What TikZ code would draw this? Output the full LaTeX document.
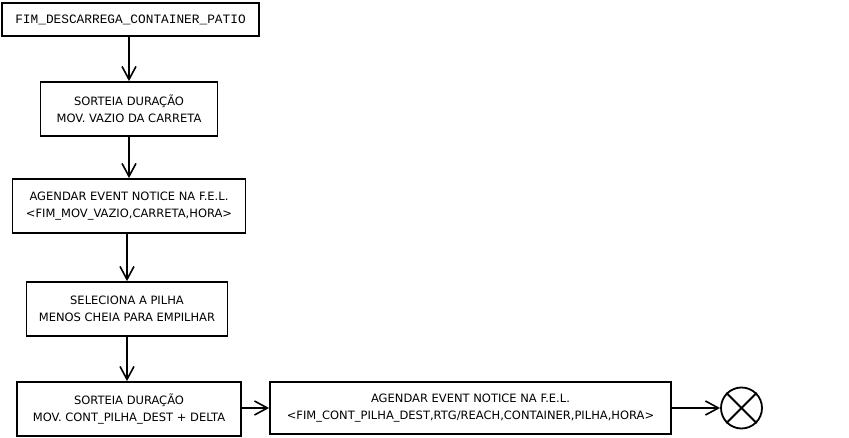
\documentclass[tikz,border=0pt]{standalone}
\usepackage{fontspec}
\setmainfont{DejaVu Sans}
\newfontfamily\monofont{Liberation Mono}
\usetikzlibrary{arrows.meta}
\usetikzlibrary{calc}
\usepackage{xcolor}

\tikzset{
  passo/.style={draw, line width=1.8pt, align=center, inner sep=0pt,
    font=\fontsize{11.5}{17}\selectfont},
  seta/.style={line width=1.8pt, -{Straight Barb[length=13pt,width=14pt,line width=1.6pt]}}
}

\begin{document}
\begin{tikzpicture}[x=1pt,y=-1pt]

        % Frame
        \useasboundingbox (0,0) rectangle (849,438);

        % Boxes
        \node[passo, minimum width=257pt, minimum height=33pt, font=\monofont\fontsize{12.8}{14}\selectfont]
          (inicio) at (130.5,19.5) {FIM\_DESCARREGA\_CONTAINER\_PATIO};
        \node[passo, minimum width=177pt, minimum height=54pt]
          (sorteiaVazio) at (129,109) {SORTEIA DURAÇÃO\\MOV. VAZIO DA CARRETA};
        \node[passo, minimum width=233pt, minimum height=54pt]
          (agendaVazio) at (129,206) {AGENDAR EVENT NOTICE NA F.E.L.\\<FIM\_MOV\_VAZIO,CARRETA,HORA>};
        \node[passo, minimum width=201pt, minimum height=54pt]
          (pilha) at (127,309) {SELECIONA A PILHA\\MENOS CHEIA PARA EMPILHAR};
        \node[passo, minimum width=224pt, minimum height=54pt]
          (sorteiaCont) at (129,409) {SORTEIA DURAÇÃO\\MOV. CONT\_PILHA\_DEST + DELTA};
        \node[passo, minimum width=401pt, minimum height=52pt]
          (agendaCont) at (470.5,408) {AGENDAR EVENT NOTICE NA F.E.L.\\<FIM\_CONT\_PILHA\_DEST,RTG/REACH,CONTAINER,PILHA,HORA>};

        % End
        \node[draw, circle, line width=1.8pt, minimum size=41pt, inner sep=0pt] (fim) at (741.5,408) {};
        \draw[line width=1.8pt] (fim.north west) -- (fim.south east);
        \draw[line width=1.8pt] (fim.north east) -- (fim.south west);

        % Arrows
        \draw[seta] (inicio.south -| sorteiaVazio) -- (sorteiaVazio.north);
        \draw[seta] (sorteiaVazio.south) -- (agendaVazio.north);
        \draw[seta] (agendaVazio.south -| pilha) -- (pilha.north);
        \draw[seta] (pilha.south) -- (pilha.south |- sorteiaCont.north);
        \draw[seta] (sorteiaCont.east |- agendaCont) -- (agendaCont.west);
        \draw[seta] (agendaCont.east) -- (fim.west);
    \end{tikzpicture}
\end{document}
